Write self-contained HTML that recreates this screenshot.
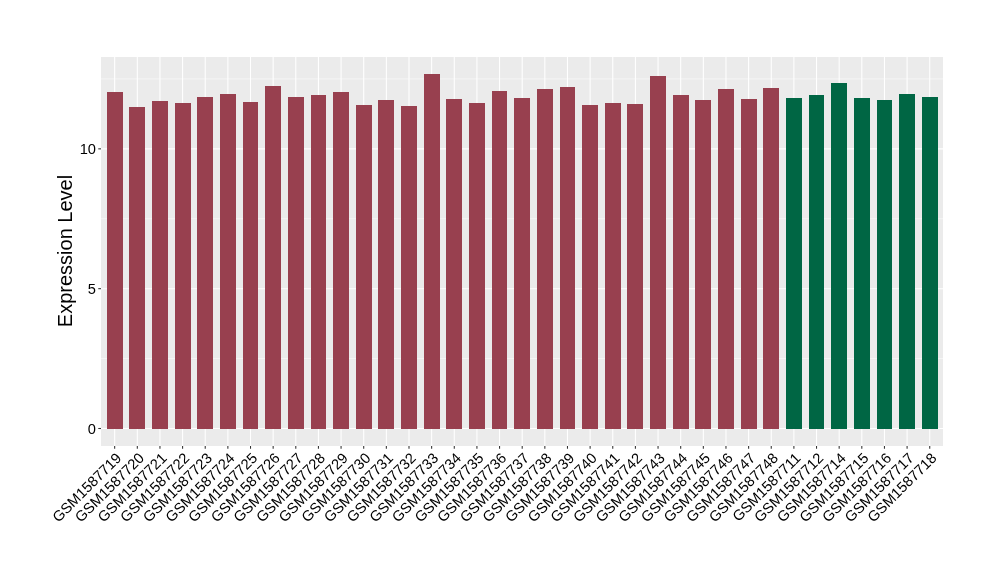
<!DOCTYPE html>
<html lang="en">
<head>
<meta charset="utf-8">
<title>Expression Level</title>
<style>
html,body{margin:0;padding:0;background:#fff;}
body{width:1000px;height:580px;overflow:hidden;}
svg{display:block;will-change:transform;}
text{font-family:"Liberation Sans",Arial,Helvetica,sans-serif;fill:#000;}
.ax{font-size:14.667px;}
.xl{letter-spacing:0px;}
.ttl{font-size:20px;}
</style>
</head>
<body>
<svg width="1000" height="580" viewBox="0 0 1000 580">
<rect x="0" y="0" width="1000" height="580" fill="#ffffff"/>
<rect x="101" y="57" width="842" height="389" fill="#EBEBEB"/>
<g stroke="#ffffff" stroke-width="0.53" fill="none">
<line x1="101" y1="358.59" x2="943" y2="358.59"/>
<line x1="101" y1="218.76" x2="943" y2="218.76"/>
<line x1="101" y1="78.94" x2="943" y2="78.94"/>
</g>
<g stroke="#ffffff" stroke-width="1.07" fill="none">
<line x1="101" y1="428.50" x2="943" y2="428.50"/>
<line x1="101" y1="288.68" x2="943" y2="288.68"/>
<line x1="101" y1="148.85" x2="943" y2="148.85"/>
<line x1="114.66" y1="57" x2="114.66" y2="446"/>
<line x1="137.31" y1="57" x2="137.31" y2="446"/>
<line x1="159.95" y1="57" x2="159.95" y2="446"/>
<line x1="182.59" y1="57" x2="182.59" y2="446"/>
<line x1="205.23" y1="57" x2="205.23" y2="446"/>
<line x1="227.87" y1="57" x2="227.87" y2="446"/>
<line x1="250.51" y1="57" x2="250.51" y2="446"/>
<line x1="273.15" y1="57" x2="273.15" y2="446"/>
<line x1="295.79" y1="57" x2="295.79" y2="446"/>
<line x1="318.43" y1="57" x2="318.43" y2="446"/>
<line x1="341.07" y1="57" x2="341.07" y2="446"/>
<line x1="363.71" y1="57" x2="363.71" y2="446"/>
<line x1="386.35" y1="57" x2="386.35" y2="446"/>
<line x1="409.00" y1="57" x2="409.00" y2="446"/>
<line x1="431.64" y1="57" x2="431.64" y2="446"/>
<line x1="454.28" y1="57" x2="454.28" y2="446"/>
<line x1="476.92" y1="57" x2="476.92" y2="446"/>
<line x1="499.56" y1="57" x2="499.56" y2="446"/>
<line x1="522.20" y1="57" x2="522.20" y2="446"/>
<line x1="544.84" y1="57" x2="544.84" y2="446"/>
<line x1="567.48" y1="57" x2="567.48" y2="446"/>
<line x1="590.12" y1="57" x2="590.12" y2="446"/>
<line x1="612.76" y1="57" x2="612.76" y2="446"/>
<line x1="635.40" y1="57" x2="635.40" y2="446"/>
<line x1="658.05" y1="57" x2="658.05" y2="446"/>
<line x1="680.69" y1="57" x2="680.69" y2="446"/>
<line x1="703.33" y1="57" x2="703.33" y2="446"/>
<line x1="725.97" y1="57" x2="725.97" y2="446"/>
<line x1="748.61" y1="57" x2="748.61" y2="446"/>
<line x1="771.25" y1="57" x2="771.25" y2="446"/>
<line x1="793.89" y1="57" x2="793.89" y2="446"/>
<line x1="816.53" y1="57" x2="816.53" y2="446"/>
<line x1="839.17" y1="57" x2="839.17" y2="446"/>
<line x1="861.81" y1="57" x2="861.81" y2="446"/>
<line x1="884.45" y1="57" x2="884.45" y2="446"/>
<line x1="907.09" y1="57" x2="907.09" y2="446"/>
<line x1="929.74" y1="57" x2="929.74" y2="446"/>
</g>
<rect x="107" y="92" width="16" height="337" fill="#98404F"/>
<rect x="129" y="107" width="16" height="322" fill="#98404F"/>
<rect x="152" y="101" width="16" height="328" fill="#98404F"/>
<rect x="175" y="103" width="16" height="326" fill="#98404F"/>
<rect x="197" y="97" width="16" height="332" fill="#98404F"/>
<rect x="220" y="94" width="16" height="335" fill="#98404F"/>
<rect x="243" y="102" width="15" height="327" fill="#98404F"/>
<rect x="265" y="86" width="16" height="343" fill="#98404F"/>
<rect x="288" y="97" width="16" height="332" fill="#98404F"/>
<rect x="311" y="95" width="15" height="334" fill="#98404F"/>
<rect x="333" y="92" width="16" height="337" fill="#98404F"/>
<rect x="356" y="105" width="16" height="324" fill="#98404F"/>
<rect x="378" y="100" width="16" height="329" fill="#98404F"/>
<rect x="401" y="106" width="16" height="323" fill="#98404F"/>
<rect x="424" y="74" width="16" height="355" fill="#98404F"/>
<rect x="446" y="99" width="16" height="330" fill="#98404F"/>
<rect x="469" y="103" width="16" height="326" fill="#98404F"/>
<rect x="492" y="91" width="15" height="338" fill="#98404F"/>
<rect x="514" y="98" width="16" height="331" fill="#98404F"/>
<rect x="537" y="89" width="16" height="340" fill="#98404F"/>
<rect x="560" y="87" width="15" height="342" fill="#98404F"/>
<rect x="582" y="105" width="16" height="324" fill="#98404F"/>
<rect x="605" y="103" width="16" height="326" fill="#98404F"/>
<rect x="627" y="104" width="16" height="325" fill="#98404F"/>
<rect x="650" y="76" width="16" height="353" fill="#98404F"/>
<rect x="673" y="95" width="16" height="334" fill="#98404F"/>
<rect x="695" y="100" width="16" height="329" fill="#98404F"/>
<rect x="718" y="89" width="16" height="340" fill="#98404F"/>
<rect x="741" y="99" width="16" height="330" fill="#98404F"/>
<rect x="763" y="88" width="16" height="341" fill="#98404F"/>
<rect x="786" y="98" width="16" height="331" fill="#006644"/>
<rect x="809" y="95" width="15" height="334" fill="#006644"/>
<rect x="831" y="83" width="16" height="346" fill="#006644"/>
<rect x="854" y="98" width="16" height="331" fill="#006644"/>
<rect x="877" y="100" width="15" height="329" fill="#006644"/>
<rect x="899" y="94" width="16" height="335" fill="#006644"/>
<rect x="922" y="97" width="16" height="332" fill="#006644"/>
<g stroke="#333333" stroke-width="1.07" fill="none">
<line x1="98.25" y1="428.50" x2="101" y2="428.50"/>
<line x1="98.25" y1="288.68" x2="101" y2="288.68"/>
<line x1="98.25" y1="148.85" x2="101" y2="148.85"/>
<line x1="114.66" y1="446" x2="114.66" y2="448.75"/>
<line x1="137.31" y1="446" x2="137.31" y2="448.75"/>
<line x1="159.95" y1="446" x2="159.95" y2="448.75"/>
<line x1="182.59" y1="446" x2="182.59" y2="448.75"/>
<line x1="205.23" y1="446" x2="205.23" y2="448.75"/>
<line x1="227.87" y1="446" x2="227.87" y2="448.75"/>
<line x1="250.51" y1="446" x2="250.51" y2="448.75"/>
<line x1="273.15" y1="446" x2="273.15" y2="448.75"/>
<line x1="295.79" y1="446" x2="295.79" y2="448.75"/>
<line x1="318.43" y1="446" x2="318.43" y2="448.75"/>
<line x1="341.07" y1="446" x2="341.07" y2="448.75"/>
<line x1="363.71" y1="446" x2="363.71" y2="448.75"/>
<line x1="386.35" y1="446" x2="386.35" y2="448.75"/>
<line x1="409.00" y1="446" x2="409.00" y2="448.75"/>
<line x1="431.64" y1="446" x2="431.64" y2="448.75"/>
<line x1="454.28" y1="446" x2="454.28" y2="448.75"/>
<line x1="476.92" y1="446" x2="476.92" y2="448.75"/>
<line x1="499.56" y1="446" x2="499.56" y2="448.75"/>
<line x1="522.20" y1="446" x2="522.20" y2="448.75"/>
<line x1="544.84" y1="446" x2="544.84" y2="448.75"/>
<line x1="567.48" y1="446" x2="567.48" y2="448.75"/>
<line x1="590.12" y1="446" x2="590.12" y2="448.75"/>
<line x1="612.76" y1="446" x2="612.76" y2="448.75"/>
<line x1="635.40" y1="446" x2="635.40" y2="448.75"/>
<line x1="658.05" y1="446" x2="658.05" y2="448.75"/>
<line x1="680.69" y1="446" x2="680.69" y2="448.75"/>
<line x1="703.33" y1="446" x2="703.33" y2="448.75"/>
<line x1="725.97" y1="446" x2="725.97" y2="448.75"/>
<line x1="748.61" y1="446" x2="748.61" y2="448.75"/>
<line x1="771.25" y1="446" x2="771.25" y2="448.75"/>
<line x1="793.89" y1="446" x2="793.89" y2="448.75"/>
<line x1="816.53" y1="446" x2="816.53" y2="448.75"/>
<line x1="839.17" y1="446" x2="839.17" y2="448.75"/>
<line x1="861.81" y1="446" x2="861.81" y2="448.75"/>
<line x1="884.45" y1="446" x2="884.45" y2="448.75"/>
<line x1="907.09" y1="446" x2="907.09" y2="448.75"/>
<line x1="929.74" y1="446" x2="929.74" y2="448.75"/>
</g>
<text class="ax" x="96" y="433.50" text-anchor="end">0</text>
<text class="ax" x="96" y="293.68" text-anchor="end">5</text>
<text class="ax" x="96" y="153.85" text-anchor="end">10</text>
<text class="ax xl" text-anchor="end" transform="translate(122.36,459.00) rotate(-45)">GSM1587719</text>
<text class="ax xl" text-anchor="end" transform="translate(145.01,459.00) rotate(-45)">GSM1587720</text>
<text class="ax xl" text-anchor="end" transform="translate(167.65,459.00) rotate(-45)">GSM1587721</text>
<text class="ax xl" text-anchor="end" transform="translate(190.29,459.00) rotate(-45)">GSM1587722</text>
<text class="ax xl" text-anchor="end" transform="translate(212.93,459.00) rotate(-45)">GSM1587723</text>
<text class="ax xl" text-anchor="end" transform="translate(235.57,459.00) rotate(-45)">GSM1587724</text>
<text class="ax xl" text-anchor="end" transform="translate(258.21,459.00) rotate(-45)">GSM1587725</text>
<text class="ax xl" text-anchor="end" transform="translate(280.85,459.00) rotate(-45)">GSM1587726</text>
<text class="ax xl" text-anchor="end" transform="translate(303.49,459.00) rotate(-45)">GSM1587727</text>
<text class="ax xl" text-anchor="end" transform="translate(326.13,459.00) rotate(-45)">GSM1587728</text>
<text class="ax xl" text-anchor="end" transform="translate(348.77,459.00) rotate(-45)">GSM1587729</text>
<text class="ax xl" text-anchor="end" transform="translate(371.41,459.00) rotate(-45)">GSM1587730</text>
<text class="ax xl" text-anchor="end" transform="translate(394.05,459.00) rotate(-45)">GSM1587731</text>
<text class="ax xl" text-anchor="end" transform="translate(416.70,459.00) rotate(-45)">GSM1587732</text>
<text class="ax xl" text-anchor="end" transform="translate(439.34,459.00) rotate(-45)">GSM1587733</text>
<text class="ax xl" text-anchor="end" transform="translate(461.98,459.00) rotate(-45)">GSM1587734</text>
<text class="ax xl" text-anchor="end" transform="translate(484.62,459.00) rotate(-45)">GSM1587735</text>
<text class="ax xl" text-anchor="end" transform="translate(507.26,459.00) rotate(-45)">GSM1587736</text>
<text class="ax xl" text-anchor="end" transform="translate(529.90,459.00) rotate(-45)">GSM1587737</text>
<text class="ax xl" text-anchor="end" transform="translate(552.54,459.00) rotate(-45)">GSM1587738</text>
<text class="ax xl" text-anchor="end" transform="translate(575.18,459.00) rotate(-45)">GSM1587739</text>
<text class="ax xl" text-anchor="end" transform="translate(597.82,459.00) rotate(-45)">GSM1587740</text>
<text class="ax xl" text-anchor="end" transform="translate(620.46,459.00) rotate(-45)">GSM1587741</text>
<text class="ax xl" text-anchor="end" transform="translate(643.10,459.00) rotate(-45)">GSM1587742</text>
<text class="ax xl" text-anchor="end" transform="translate(665.75,459.00) rotate(-45)">GSM1587743</text>
<text class="ax xl" text-anchor="end" transform="translate(688.39,459.00) rotate(-45)">GSM1587744</text>
<text class="ax xl" text-anchor="end" transform="translate(711.03,459.00) rotate(-45)">GSM1587745</text>
<text class="ax xl" text-anchor="end" transform="translate(733.67,459.00) rotate(-45)">GSM1587746</text>
<text class="ax xl" text-anchor="end" transform="translate(756.31,459.00) rotate(-45)">GSM1587747</text>
<text class="ax xl" text-anchor="end" transform="translate(778.95,459.00) rotate(-45)">GSM1587748</text>
<text class="ax xl" text-anchor="end" transform="translate(801.59,459.00) rotate(-45)">GSM1587711</text>
<text class="ax xl" text-anchor="end" transform="translate(824.23,459.00) rotate(-45)">GSM1587712</text>
<text class="ax xl" text-anchor="end" transform="translate(846.87,459.00) rotate(-45)">GSM1587714</text>
<text class="ax xl" text-anchor="end" transform="translate(869.51,459.00) rotate(-45)">GSM1587715</text>
<text class="ax xl" text-anchor="end" transform="translate(892.15,459.00) rotate(-45)">GSM1587716</text>
<text class="ax xl" text-anchor="end" transform="translate(914.79,459.00) rotate(-45)">GSM1587717</text>
<text class="ax xl" text-anchor="end" transform="translate(937.44,459.00) rotate(-45)">GSM1587718</text>
<text class="ttl" text-anchor="middle" transform="translate(71.5,251) rotate(-90)">Expression Level</text>
</svg>
</body>
</html>
